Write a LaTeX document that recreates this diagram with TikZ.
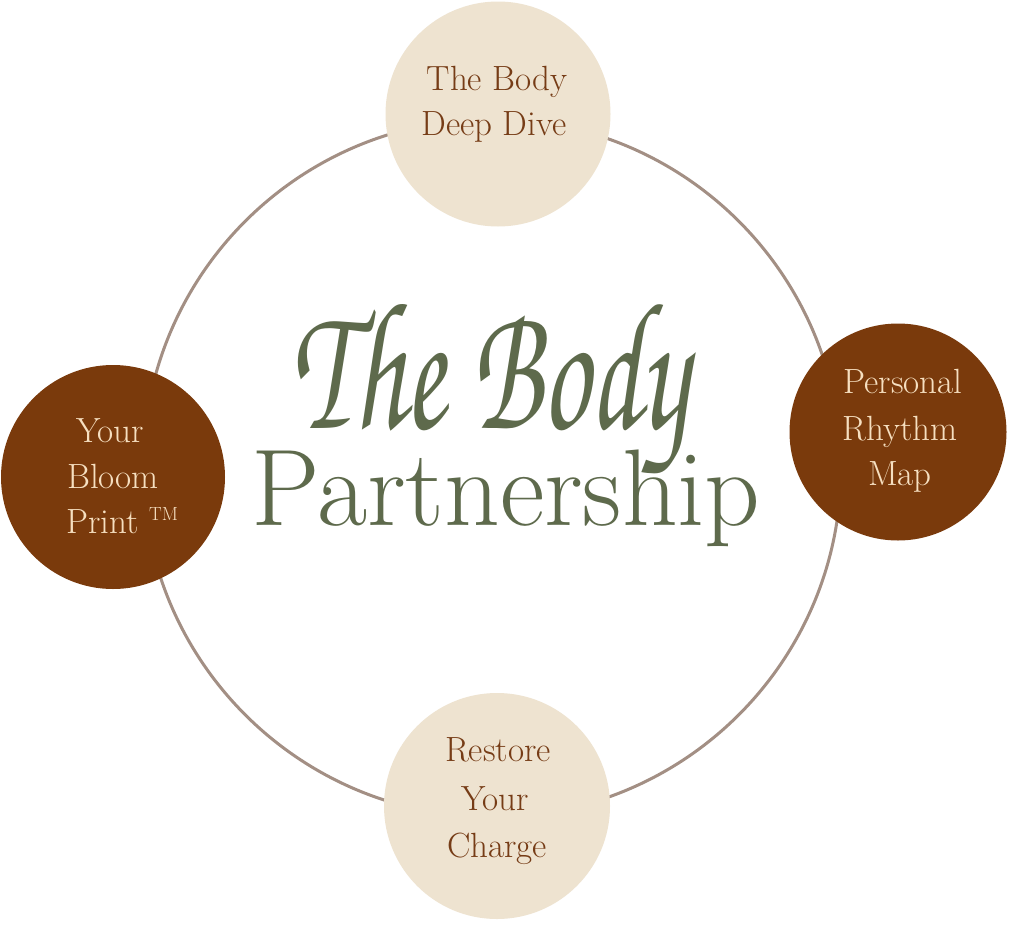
\documentclass[tikz,border=0pt]{standalone}
\usepackage[T1,TU]{fontenc}
\usepackage{graphicx}
\usetikzlibrary{positioning,calc}
\definecolor{ringgray}{RGB}{163,143,132}
\definecolor{sandbeige}{RGB}{238,227,208}
\definecolor{rustbrown}{RGB}{122,58,12}
\definecolor{inkbrown}{RGB}{118,60,22}
\definecolor{creamtext}{RGB}{246,223,192}
\definecolor{sagegreen}{RGB}{94,106,76}
\newcommand\bodyscript{\fontencoding{T1}\fontfamily{pzc}\fontseries{m}\fontshape{it}\selectfont}

\begin{document}
\begin{tikzpicture}[x=1pt, y=-1pt,
    beigedisc/.style={circle, fill=sandbeige, inner sep=0pt, minimum size=#1},
    browndisc/.style={circle, fill=rustbrown, inner sep=0pt, minimum size=#1},
    darklabel/.style={anchor=base, inner sep=0pt, text=inkbrown, font=\fontsize{35}{35}\selectfont},
    lightlabel/.style={anchor=base, inner sep=0pt, text=creamtext, font=\fontsize{35}{35}\selectfont}]
\useasboundingbox (0,0) rectangle (1009,929);
\fill[white] (0,0) rectangle (1009,929);

% the ring behind the four stations
\coordinate (hub) at (492,468);
\draw[ringgray, line width=3pt] (hub) circle (349);

% four stations
\node[beigedisc=225pt] (deepdive) at (498,114) {};
\node[beigedisc=226pt] (charge) at (497,806) {};
\node[browndisc=224pt] (bloom) at (113,477) {};
\node[browndisc=217pt] (rhythm) at (898,432) {};

% top station text
\node[darklabel] (deepdive-a) at (497,90) {The Body};
\node[darklabel] (deepdive-b) at (494,135) {Deep Dive};

% bottom station text
\node[darklabel] (charge-a) at (498,761) {Restore};
\node[darklabel] (charge-b) at (495,810) {Your};
\node[darklabel] (charge-c) at (497,857) {Charge};

% left station text
\node[lightlabel] (bloom-a) at (110,442) {Your};
\node[lightlabel] (bloom-b) at (113,488) {Bloom};
\node[lightlabel] (bloom-c) at (122,533) {Print \raisebox{0.35em}{\fontsize{19}{19}\selectfont TM}};

% right station text
\node[lightlabel] (rhythm-a) at (903,393) {Personal};
\node[lightlabel] (rhythm-b) at (900,440) {Rhythm};
\node[lightlabel] (rhythm-c) at (900,485) {Map};

% centre title
\node[anchor=base, inner sep=0pt, text=sagegreen, font=\fontsize{109}{109}\selectfont]
    (partner) at (506,525) {Partnership};
\node[anchor=base, inner sep=0pt, text=sagegreen]
    (bodytitle) at (490,428) {\scalebox{1}[1.55]{\fontsize{118}{118}\bodyscript The Body}};
\end{tikzpicture}
\end{document}
